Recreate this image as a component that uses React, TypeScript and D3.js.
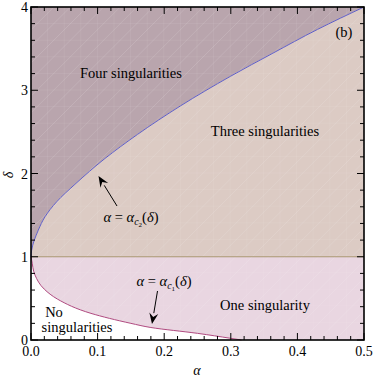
import React, { useEffect, useRef } from "react";
import * as d3 from "d3";

// alpha_c2(delta) - upper boundary (blue)
const c2Alpha = [0, 0.001, 0.011, 0.021, 0.0385, 0.066, 0.111, 0.16, 0.224, 0.3, 0.362, 0.43, 0.5];
const c2Delta = [1, 1.08, 1.32, 1.48, 1.66, 1.87, 2.18, 2.47, 2.81, 3.17, 3.44, 3.73, 4];

// alpha_c1(delta) - lower boundary (red), ordered by increasing delta
const c1Alpha = [0.316, 0.3, 0.25, 0.18, 0.15, 0.09, 0.04, 0.02, 0.006, 0.001, 0];
const c1Delta = [0, 0.02, 0.08, 0.15, 0.2, 0.32, 0.49, 0.61, 0.78, 0.96, 1];

const xTicks = [0, 0.1, 0.2, 0.3, 0.4, 0.5];
const yTicks = [0, 1, 2, 3, 4];

const App = () => {
  const svgRef = useRef(null);

  useEffect(() => {
    const svg = d3.select(svgRef.current);
    svg.selectAll("*").remove();

    const x = d3.scaleLinear().domain([0, 0.5]).range([31, 364]);
    const y = d3.scaleLinear().domain([0, 4]).range([340, 7]);
    const font = "Liberation Serif, DejaVu Serif, Times New Roman, serif";

    const blue = c2Alpha.map((a, i) => [a, c2Delta[i]]);
    const red = c1Alpha.map((a, i) => [a, c1Delta[i]]);

    const line = d3
      .line()
      .x((d) => x(d[0]))
      .y((d) => y(d[1]))
      .curve(d3.curveMonotoneY);

    // region fills
    const bluePath = line(blue);
    svg
      .append("path")
      .attr("d", `${bluePath}L${x(0)},${y(4)}Z`)
      .attr("fill", "#b9a5ad");
    svg
      .append("path")
      .attr("d", `${bluePath}L${x(0.5)},${y(1)}L${x(0)},${y(1)}Z`)
      .attr("fill", "#dccbc4");
    const redPath = line(red);
    svg
      .append("path")
      .attr("d", `${redPath}L${x(0.5)},${y(1)}L${x(0.5)},${y(0)}Z`)
      .attr("fill", "#e9d6e1");

    // faint mesh artefacts
    const clip = svg.append("clipPath").attr("id", "plotclip");
    clip
      .append("rect")
      .attr("x", x(0))
      .attr("y", y(4))
      .attr("width", x(0.5) - x(0))
      .attr("height", y(0) - y(4));
    const mesh = svg.append("g").attr("clip-path", "url(#plotclip)");
    const step = 16.6;
    d3.range(-360, 360, step).forEach((o) => {
      mesh
        .append("line")
        .attr("x1", x(0) + o)
        .attr("y1", y(0))
        .attr("x2", x(0) + o + 340)
        .attr("y2", y(0) - 340)
        .attr("stroke", "#ffffff")
        .attr("stroke-opacity", 0.22)
        .attr("stroke-width", 0.6);
    });
    d3.range(x(0), x(0.5), step).forEach((v) => {
      mesh
        .append("line")
        .attr("x1", v)
        .attr("x2", v)
        .attr("y1", y(4))
        .attr("y2", y(0))
        .attr("stroke", "#ffffff")
        .attr("stroke-opacity", 0.12)
        .attr("stroke-width", 0.6);
    });
    d3.range(y(4), y(0), step).forEach((v) => {
      mesh
        .append("line")
        .attr("y1", v)
        .attr("y2", v)
        .attr("x1", x(0))
        .attr("x2", x(0.5))
        .attr("stroke", "#ffffff")
        .attr("stroke-opacity", 0.12)
        .attr("stroke-width", 0.6);
    });

    // boundaries
    svg
      .append("line")
      .attr("x1", x(0))
      .attr("x2", x(0.5))
      .attr("y1", y(1))
      .attr("y2", y(1))
      .attr("stroke", "#a8946f")
      .attr("stroke-width", 1);
    svg
      .append("path")
      .attr("d", bluePath)
      .attr("fill", "none")
      .attr("stroke", "#5e5ec8")
      .attr("stroke-width", 1);
    svg
      .append("path")
      .attr("d", redPath)
      .attr("fill", "none")
      .attr("stroke", "#b04a80")
      .attr("stroke-width", 1);

    // ticks (inward, all four sides)
    const ticks = svg.append("g").attr("stroke", "#000").attr("stroke-width", 1);
    d3.range(0, 0.5001, 0.02).forEach((t, i) => {
      const len = i % 5 === 0 ? 7 : 4;
      ticks.append("line").attr("x1", x(t)).attr("x2", x(t)).attr("y1", y(0)).attr("y2", y(0) - len);
      ticks.append("line").attr("x1", x(t)).attr("x2", x(t)).attr("y1", y(4)).attr("y2", y(4) + len);
    });
    d3.range(0, 4.001, 0.2).forEach((t, i) => {
      const len = i % 5 === 0 ? 7 : 4;
      ticks.append("line").attr("y1", y(t)).attr("y2", y(t)).attr("x1", x(0)).attr("x2", x(0) + len);
      ticks.append("line").attr("y1", y(t)).attr("y2", y(t)).attr("x1", x(0.5)).attr("x2", x(0.5) - len);
    });

    // frame
    svg
      .append("rect")
      .attr("x", x(0))
      .attr("y", y(4))
      .attr("width", x(0.5) - x(0))
      .attr("height", y(0) - y(4))
      .attr("fill", "none")
      .attr("stroke", "#000")
      .attr("stroke-width", 1.6);

    // tick labels
    xTicks.forEach((t) => {
      svg
        .append("text")
        .attr("x", x(t))
        .attr("y", 356)
        .attr("text-anchor", "middle")
        .attr("font-family", font)
        .attr("font-size", 14)
        .text(d3.format(".1f")(t));
    });
    yTicks.forEach((t) => {
      svg
        .append("text")
        .attr("x", 28)
        .attr("y", y(t) + 5)
        .attr("text-anchor", "end")
        .attr("font-family", font)
        .attr("font-size", 14)
        .text(t);
    });

    // axis titles
    svg
      .append("text")
      .attr("x", 197)
      .attr("y", 375)
      .attr("text-anchor", "middle")
      .attr("font-family", font)
      .attr("font-style", "italic")
      .attr("font-size", 14)
      .text("α");
    svg
      .append("text")
      .attr("transform", "translate(13,175) rotate(-90)")
      .attr("text-anchor", "middle")
      .attr("font-family", font)
      .attr("font-style", "italic")
      .attr("font-size", 14)
      .text("δ");

    const label = (tx, ty, s) =>
      svg
        .append("text")
        .attr("x", tx)
        .attr("y", ty)
        .attr("text-anchor", "middle")
        .attr("font-family", font)
        .attr("font-size", 14.5)
        .text(s);

    label(131, 78, "Four singularities");
    label(265, 136, "Three singularities");
    label(265, 310, "One singularity");
    label(54, 317, "No");
    label(77, 332, "singularities");
    label(344, 37, "(b)");

    // formula labels
    const formula = (tx, ty, sub) => {
      const t = svg
        .append("text")
        .attr("x", tx)
        .attr("y", ty)
        .attr("text-anchor", "middle")
        .attr("font-family", font)
        .attr("font-size", 14.5);
      t.append("tspan").attr("font-style", "italic").text("α");
      t.append("tspan").text(" = ");
      t.append("tspan").attr("font-style", "italic").text("α");
      t.append("tspan").attr("dy", 3).attr("font-style", "italic").attr("font-size", 10).text("c");
      t.append("tspan").attr("dy", 2).attr("font-size", 7).text(sub);
      t.append("tspan").attr("dy", -5).text("(");
      t.append("tspan").attr("font-style", "italic").text("δ");
      t.append("tspan").text(")");
    };
    formula(131, 222, "2");
    formula(164, 286, "1");

    // arrows
    const arrow = (x1, y1, x2, y2) => {
      const ang = Math.atan2(y2 - y1, x2 - x1);
      const hl = 11;
      const hw = 4.5;
      const bx = x2 - hl * Math.cos(ang);
      const by = y2 - hl * Math.sin(ang);
      svg
        .append("line")
        .attr("x1", x1)
        .attr("y1", y1)
        .attr("x2", bx)
        .attr("y2", by)
        .attr("stroke", "#000")
        .attr("stroke-width", 1);
      const px = -Math.sin(ang) * hw;
      const py = Math.cos(ang) * hw;
      svg
        .append("path")
        .attr("d", `M${x2},${y2}L${bx + px},${by + py}L${bx + 0.35 * hl * Math.cos(ang)},${by + 0.35 * hl * Math.sin(ang)}L${bx - px},${by - py}Z`)
        .attr("fill", "#000");
    };
    arrow(117, 206, 98.5, 176);
    arrow(157.5, 291, 152, 324);
  }, []);

  return (
    <div style={{ position: "absolute", left: 0, top: 0, background: "#fff" }}>
      <svg ref={svgRef} width={374} height={379} style={{ display: "block" }} />
    </div>
  );
};

export default App;
